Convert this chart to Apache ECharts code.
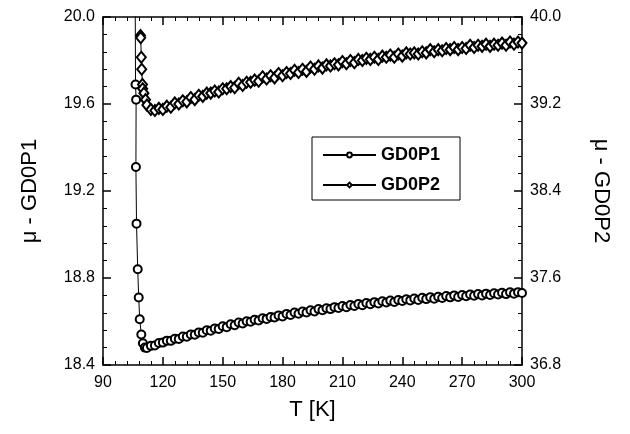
<!DOCTYPE html>
<html>
<head>
<meta charset="utf-8">
<script src="https://cdn.jsdelivr.net/npm/echarts@6/dist/echarts.min.js"></script>
<style>
  html, body { margin: 0; padding: 0; background: #fff; }
  #chart { width: 630px; height: 434px; }
</style>
</head>
<body>
<div id="chart"></div>
<script>
// steep part near the transition, GD0P1 (left axis)
var tempP1Spike = [106.0, 106.3, 106.6, 106.5, 106.8, 107.4, 107.9, 108.4, 109.2, 110.0, 111.0];
var muP1Spike = [20.40, 19.69, 19.62, 19.31, 19.05, 18.84, 18.71, 18.61, 18.54, 18.50, 18.48];

// steep part near the transition, GD0P2 (right axis)
var tempP2Spike = [108.8, 108.9, 109.2, 109.4, 109.8, 109.9, 110.5, 111.3];
var muP2Spike = [39.83, 39.81, 39.63, 39.52, 39.38, 39.34, 39.30, 39.24];

// dense part of both curves
var tempBand = [
  112, 114, 116, 118, 120, 122, 124, 126, 128, 130,
  132, 134, 136, 138, 140, 142, 144, 146, 148, 150,
  152, 154, 156, 158, 160, 162, 164, 166, 168, 170,
  172, 174, 176, 178, 180, 182, 184, 186, 188, 190,
  192, 194, 196, 198, 200, 202, 204, 206, 208, 210,
  212, 214, 216, 218, 220, 222, 224, 226, 228, 230,
  232, 234, 236, 238, 240, 242, 244, 246, 248, 250,
  252, 254, 256, 258, 260, 262, 264, 266, 268, 270,
  272, 274, 276, 278, 280, 282, 284, 286, 288, 290,
  292, 294, 296, 298, 300
];
var muP1Band = [
  18.478, 18.488, 18.490, 18.501, 18.503, 18.512, 18.511, 18.521, 18.520, 18.531,
  18.530, 18.540, 18.539, 18.550, 18.548, 18.560, 18.558, 18.568, 18.566, 18.578,
  18.574, 18.587, 18.583, 18.595, 18.591, 18.601, 18.599, 18.608, 18.605, 18.615,
  18.612, 18.621, 18.618, 18.628, 18.623, 18.635, 18.630, 18.641, 18.636, 18.646,
  18.641, 18.652, 18.646, 18.657, 18.652, 18.661, 18.657, 18.666, 18.662, 18.671,
  18.666, 18.676, 18.671, 18.681, 18.675, 18.685, 18.679, 18.689, 18.683, 18.693,
  18.687, 18.696, 18.690, 18.699, 18.694, 18.702, 18.697, 18.706, 18.699, 18.709,
  18.703, 18.712, 18.705, 18.714, 18.708, 18.717, 18.711, 18.720, 18.713, 18.722,
  18.716, 18.724, 18.718, 18.726, 18.720, 18.728, 18.722, 18.730, 18.724, 18.732,
  18.726, 18.734, 18.728, 18.735, 18.731
];
var muP2Band = [
  39.19, 39.15, 39.14, 39.16, 39.15, 39.18, 39.17, 39.21, 39.20, 39.23,
  39.22, 39.26, 39.24, 39.28, 39.27, 39.30, 39.30, 39.32, 39.31, 39.34,
  39.34, 39.36, 39.35, 39.39, 39.37, 39.40, 39.40, 39.42, 39.41, 39.45,
  39.43, 39.46, 39.44, 39.48, 39.46, 39.49, 39.48, 39.51, 39.49, 39.52,
  39.50, 39.54, 39.52, 39.55, 39.53, 39.56, 39.55, 39.57, 39.56, 39.59,
  39.57, 39.60, 39.58, 39.61, 39.60, 39.62, 39.61, 39.63, 39.61, 39.64,
  39.63, 39.65, 39.63, 39.66, 39.64, 39.67, 39.66, 39.67, 39.66, 39.68,
  39.67, 39.70, 39.68, 39.70, 39.69, 39.71, 39.70, 39.72, 39.70, 39.72,
  39.71, 39.74, 39.72, 39.74, 39.73, 39.75, 39.73, 39.75, 39.74, 39.76,
  39.74, 39.77, 39.75, 39.77, 39.76
];

var xTicks = { min: 90, max: 300, interval: 30 };
var leftTicks = { min: 18.4, max: 20.0, interval: 0.4 };
var rightTicks = { min: 36.8, max: 40.0, interval: 0.8 };

function pairs(xs, ys) {
  var out = [];
  for (var i = 0; i < xs.length; i++) out.push([xs[i], ys[i]]);
  return out;
}

var font = 'Liberation Sans, Arial, sans-serif';

function frameAxis(extra) {
  var base = {
    axisLine: { show: true, onZero: false, lineStyle: { color: '#000', width: 1.5 } },
    axisTick: { show: true, inside: true, length: 8, lineStyle: { color: '#000', width: 1.5 } },
    minorTick: { show: true, splitNumber: 5, length: 4, lineStyle: { color: '#000', width: 1 } },
    splitLine: { show: false },
    axisLabel: { color: '#000', fontSize: 16, fontFamily: font }
  };
  for (var k in extra) base[k] = extra[k];
  return base;
}

var myChart = echarts.init(document.getElementById('chart'));
var option = {
  animation: false,
  backgroundColor: '#fff',
  grid: { left: 103, right: 108, top: 17, bottom: 69, containLabel: false },
  legend: {
    left: 312,
    top: 137,
    orient: 'vertical',
    itemWidth: 53,
    itemHeight: 6,
    itemGap: 12,
    padding: [9, 20, 6, 10],
    borderColor: '#000',
    borderWidth: 1,
    backgroundColor: '#fff',
    textStyle: { fontSize: 18, fontWeight: 'bold', color: '#000', fontFamily: font },
    data: ['GD0P1', 'GD0P2']
  },
  xAxis: [
    frameAxis({
      type: 'value', position: 'bottom',
      min: xTicks.min, max: xTicks.max, interval: xTicks.interval,
      name: 'T [K]', nameLocation: 'middle', nameGap: 34,
      nameTextStyle: { fontSize: 22, color: '#000', fontFamily: font },
      axisLabel: { color: '#000', fontSize: 16, fontFamily: font, margin: 10 }
    }),
    frameAxis({
      type: 'value', position: 'top',
      min: xTicks.min, max: xTicks.max, interval: xTicks.interval,
      axisLabel: { show: false }
    })
  ],
  yAxis: [
    frameAxis({
      type: 'value', position: 'left',
      min: leftTicks.min, max: leftTicks.max, interval: leftTicks.interval,
      name: 'μ - GD0P1', nameLocation: 'middle', nameGap: 62,
      nameTextStyle: { fontSize: 22, color: '#000', fontFamily: font },
      axisLabel: {
        color: '#000', fontSize: 16, fontFamily: font, margin: 8,
        formatter: function (v) { return v.toFixed(1); }
      }
    }),
    frameAxis({
      type: 'value', position: 'right',
      min: rightTicks.min, max: rightTicks.max, interval: rightTicks.interval,
      name: 'μ - GD0P2', nameLocation: 'middle', nameGap: 68, nameRotate: -90,
      nameTextStyle: { fontSize: 22, color: '#000', fontFamily: font },
      axisLabel: {
        color: '#000', fontSize: 16, fontFamily: font, margin: 8,
        formatter: function (v) { return v.toFixed(1); }
      }
    })
  ],
  series: [
    {
      name: 'GD0P1',
      type: 'line',
      xAxisIndex: 0,
      yAxisIndex: 0,
      data: pairs(tempP1Spike.concat(tempBand), muP1Spike.concat(muP1Band)),
      symbol: 'emptyCircle',
      symbolSize: 8,
      showSymbol: true,
      clip: true,
      itemStyle: { color: '#000', borderColor: '#000', borderWidth: 1 },
      lineStyle: { color: '#000', width: 1 },
      emphasis: { disabled: true }
    },
    {
      name: 'GD0P2',
      type: 'line',
      xAxisIndex: 0,
      yAxisIndex: 1,
      data: pairs(tempP2Spike.concat(tempBand), muP2Spike.concat(muP2Band)),
      symbol: 'emptyDiamond',
      symbolSize: [9, 11],
      showSymbol: true,
      clip: true,
      itemStyle: { color: '#000', borderColor: '#000', borderWidth: 1 },
      lineStyle: { color: '#000', width: 1 },
      emphasis: { disabled: true }
    }
  ]
};
myChart.setOption(option);
</script>
</body>
</html>
